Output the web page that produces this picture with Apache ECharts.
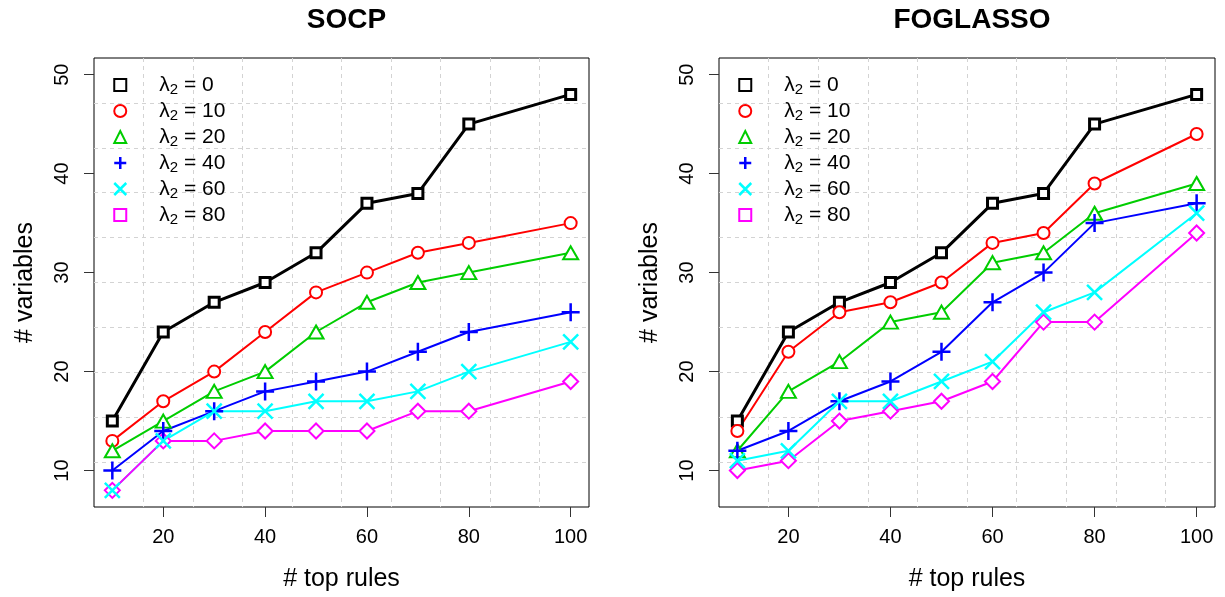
<!DOCTYPE html>
<html>
<head>
<meta charset="utf-8">
<script src="https://cdn.jsdelivr.net/npm/echarts@6/dist/echarts.min.js"></script>
<style>
  html, body { margin: 0; padding: 0; background: #fff; }
  #chart { width: 1225px; height: 597px; }
</style>
</head>
<body>
<div id="chart"></div>
<script>
// ---- data ----
const topRules = [10, 20, 30, 40, 50, 60, 70, 80, 100];
const lambdaValues = [0, 10, 20, 40, 60, 80];
const xTicks = [20, 40, 60, 80, 100];
const yTicks = [10, 20, 30, 40, 50];
const panelTitles = ['SOCP', 'FOGLASSO'];

const socpL0  = [15, 24, 27, 29, 32, 37, 38, 45, 48];
const socpL10 = [13, 17, 20, 24, 28, 30, 32, 33, 35];
const socpL20 = [12, 15, 18, 20, 24, 27, 29, 30, 32];
const socpL40 = [10, 14, 16, 18, 19, 20, 22, 24, 26];
const socpL60 = [8, 13, 16, 16, 17, 17, 18, 20, 23];
const socpL80 = [8, 13, 13, 14, 14, 14, 16, 16, 19];

const fogL0  = [15, 24, 27, 29, 32, 37, 38, 45, 48];
const fogL10 = [14, 22, 26, 27, 29, 33, 34, 39, 44];
const fogL20 = [12, 18, 21, 25, 26, 31, 32, 36, 39];
const fogL40 = [12, 14, 17, 19, 22, 27, 30, 35, 37];
const fogL60 = [11, 12, 17, 17, 19, 21, 26, 28, 36];
const fogL80 = [10, 11, 15, 16, 17, 19, 25, 25, 34];

const panelData = [
  [socpL0, socpL10, socpL20, socpL40, socpL60, socpL80],
  [fogL0, fogL10, fogL20, fogL40, fogL60, fogL80]
];

// ---- styles ----
const colors = ['#000000', '#FF0000', '#00CD00', '#0000FF', '#00FFFF', '#FF00FF'];
const lineWidths = [3, 2, 2, 2, 2, 2];
const markerSymbols = ['rect', 'circle', 'triangle', 'path://M0,10H20M10,0V20', 'path://M0,0L20,20M20,0L0,20', 'diamond'];
const markerSizes = [10, 12, [15, 13], 18, 15, 15];
const markerBorder = [3, 2, 2, 2.5, 2.5, 2];
const markerFill = ['#fff', '#fff', '#fff', 'transparent', 'transparent', '#fff'];
const legendIcons = ['rect', 'circle', 'triangle', 'path://M0,10H20M10,0V20', 'path://M0,0L20,20M20,0L0,20', 'rect'];
const markerOrder = [0, 1, 2, 5, 3, 4];

const FONT = '"Liberation Sans", Arial, Helvetica, sans-serif';
const grids = [
  { left: 94, right: 636, top: 58, bottom: 90 },
  { left: 719, right: 10, top: 58, bottom: 90 }
];
const nameOf = k => 'λ2 = ' + lambdaValues[k];

const option = {
  animation: false,
  textStyle: { fontFamily: FONT },
  title: panelTitles.map((t, p) => ({
    text: t,
    left: p === 0 ? 341.5 : 967,
    textAlign: 'center',
    top: 1,
    textStyle: { fontFamily: FONT, fontSize: 28, fontWeight: 'bold', color: '#000' }
  })),
  grid: grids.map(g => Object.assign({ show: true, borderColor: '#000', borderWidth: 1, backgroundColor: 'transparent' }, g)),
  xAxis: [],
  yAxis: [],
  legend: [0, 1].map(p => ({
    orient: 'vertical',
    left: p === 0 ? 113 : 738,
    top: 72,
    padding: 0,
    itemGap: 0,
    itemWidth: 12,
    itemHeight: 12,
    selectedMode: false,
    data: lambdaValues.map((v, k) => ({
      name: nameOf(k),
      icon: legendIcons[k],
      itemStyle: { color: 'transparent', borderColor: colors[k], borderWidth: k >= 3 && k <= 4 ? 2.5 : 2 }
    })),
    formatter: name => {
      const v = name.split('= ')[1];
      return '{a|λ}{b|2}{c| = ' + v + '}';
    },
    textStyle: {
      padding: [0, 0, 0, 28],
      lineHeight: 26,
      rich: {
        a: { fontFamily: FONT, fontSize: 21, color: '#000', lineHeight: 26 },
        b: { fontFamily: FONT, fontSize: 15, color: '#000', padding: [10, 0, 0, 0], lineHeight: 26 },
        c: { fontFamily: FONT, fontSize: 21, color: '#000', lineHeight: 26 }
      }
    }
  })),
  series: []
};

[0, 1].forEach(p => {
  option.xAxis.push({
    type: 'value', gridIndex: p, min: 6.4, max: 103.6,
    position: 'bottom',
    axisLine: { show: false },
    splitLine: { show: false },
    axisTick: { show: true, customValues: xTicks, length: 10, lineStyle: { color: '#333', width: 1 } },
    axisLabel: { show: true, customValues: xTicks, fontSize: 20, color: '#000', margin: 20, fontFamily: FONT },
    name: '# top rules', nameLocation: 'middle', nameGap: 60,
    nameTextStyle: { fontSize: 25, color: '#000', fontFamily: FONT }
  });
  option.xAxis.push({
    type: 'value', gridIndex: p, min: 0, max: 10, interval: 1, position: 'top',
    axisLine: { show: false }, axisTick: { show: false }, axisLabel: { show: false },
    splitLine: { show: true, showMinLine: false, showMaxLine: false, lineStyle: { color: '#d3d3d3', width: 1, type: [4, 4] } }
  });
  option.yAxis.push({
    type: 'value', gridIndex: p, min: 6.32, max: 51.68,
    position: 'left',
    axisLine: { show: false },
    splitLine: { show: false },
    axisTick: { show: true, customValues: yTicks, length: 10, lineStyle: { color: '#333', width: 1 } },
    axisLabel: { show: true, customValues: yTicks, fontSize: 20, color: '#000', margin: 22, rotate: 90, fontFamily: FONT },
    name: '# variables', nameLocation: 'middle', nameGap: 56, nameRotate: 90,
    nameTextStyle: { fontSize: 25, color: '#000', fontFamily: FONT }
  });
  option.yAxis.push({
    type: 'value', gridIndex: p, min: 0, max: 10, interval: 1, position: 'right',
    axisLine: { show: false }, axisTick: { show: false }, axisLabel: { show: false },
    splitLine: { show: true, showMinLine: false, showMaxLine: false, lineStyle: { color: '#d3d3d3', width: 1, type: [4, 4] } }
  });
});

[0, 1].forEach(p => {
  const xi = p * 2;
  panelData[p].forEach((vals, k) => {
    option.series.push({
      type: 'line', name: nameOf(k), xAxisIndex: xi, yAxisIndex: xi,
      data: topRules.map((x, i) => [x, vals[i]]),
      showSymbol: false, silent: true, z: 2,
      itemStyle: { color: colors[k] },
      lineStyle: { color: colors[k], width: lineWidths[k] }
    });
  });
  markerOrder.forEach(k => {
    const vals = panelData[p][k];
    option.series.push({
      type: 'scatter', name: nameOf(k), xAxisIndex: xi, yAxisIndex: xi,
      data: topRules.map((x, i) => [x, vals[i]]),
      symbol: markerSymbols[k], symbolSize: markerSizes[k], silent: true, z: 3,
      itemStyle: { color: markerFill[k], borderColor: colors[k], borderWidth: markerBorder[k], opacity: 1 }
    });
  });
});

const chart = echarts.init(document.getElementById('chart'), null, { renderer: 'canvas' });
chart.setOption(option);
</script>
</body>
</html>
